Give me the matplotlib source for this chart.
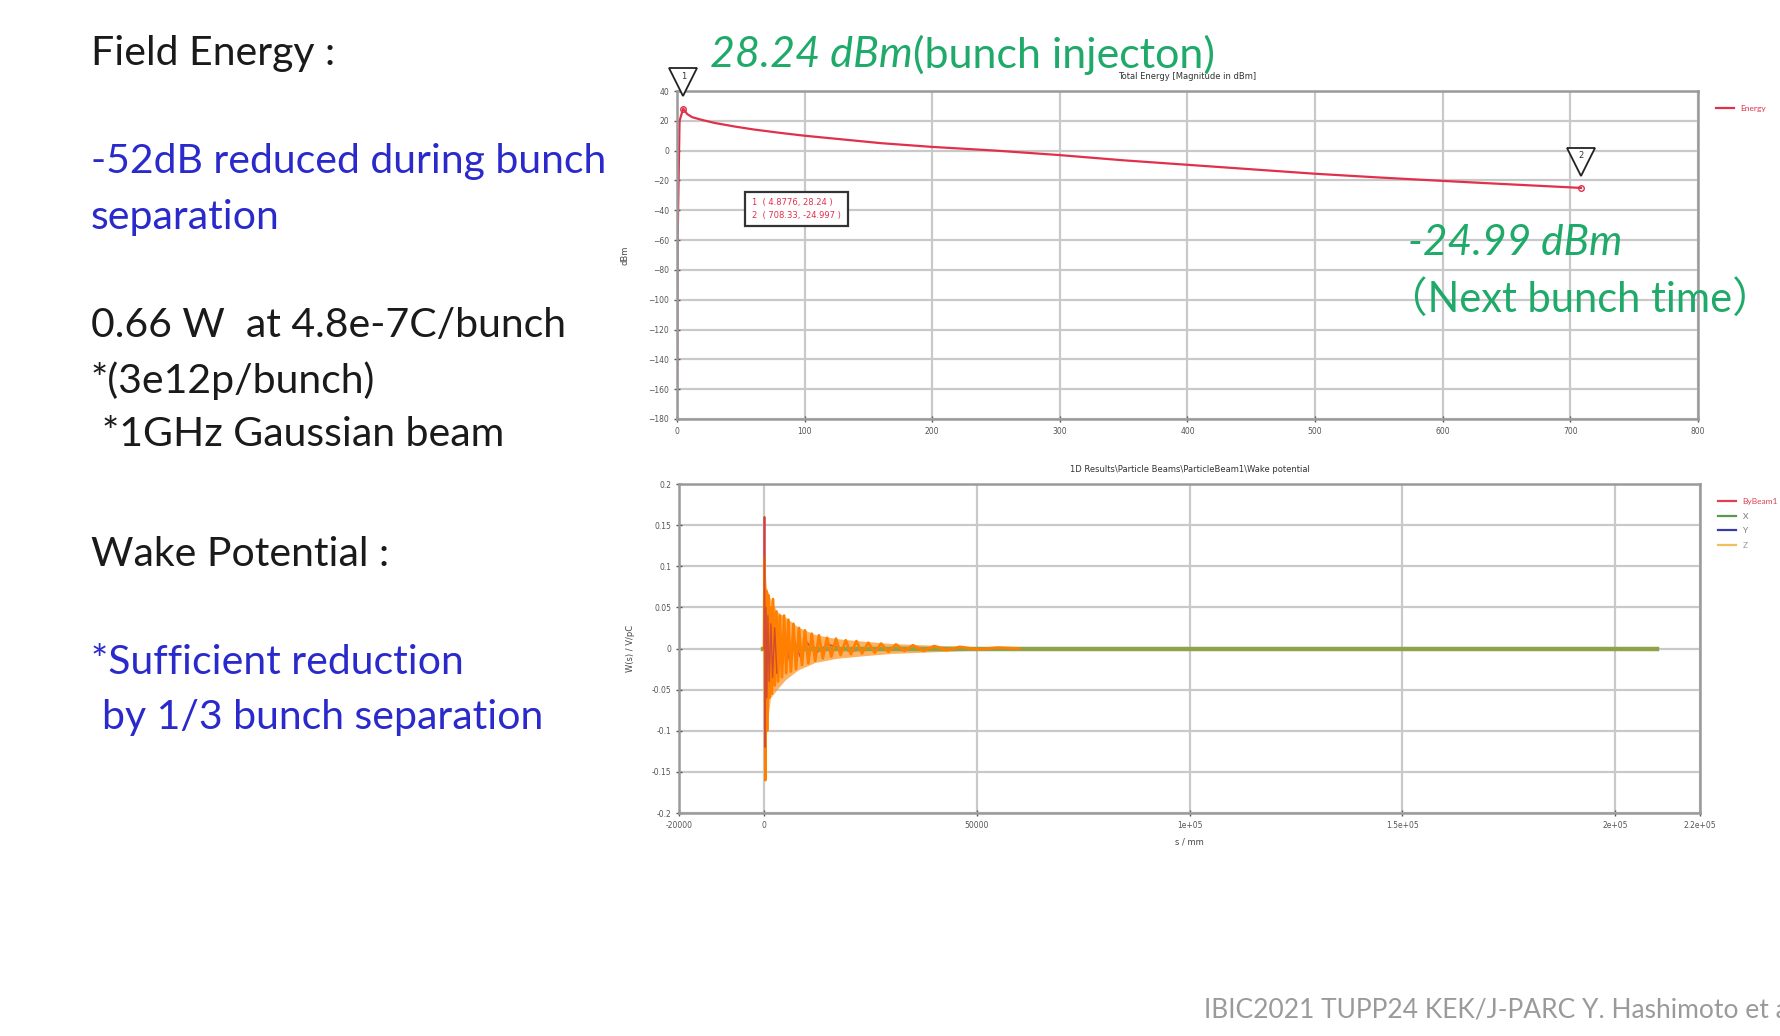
import matplotlib
matplotlib.use('Agg')
import matplotlib.pyplot as plt
from matplotlib.transforms import offset_copy
from matplotlib.lines import Line2D

# ---------------- data ----------------
time_ns = [0, 0.5, 2, 4.8776, 8, 12, 20, 30, 45, 60, 80, 100, 130, 160, 200, 250,
           300, 350, 400, 450, 500, 550, 600, 650, 708.33]
energy_dbm = [-180, -60, 20, 28.24, 24.5, 22.4, 20.5, 18.5, 16.2, 14.2, 12.0, 10.0,
              7.5, 5.0, 2.5, 0.0, -3.0, -6.5, -9.5, -12.5, -15.5, -18.0, -20.3,
              -22.5, -24.997]
marker_ids = ['1', '2']
marker_t = [4.8776, 708.33]
marker_v = [28.24, -24.997]
energy_xticks = [0, 100, 200, 300, 400, 500, 600, 700, 800]
energy_yticks = [40, 20, 0, -20, -40, -60, -80, -100, -120, -140, -160, -180]

wake_beam_s = [-200, 0, 100, 250, 450, 650, 900, 1200, 1600, 2000, 2500, 3000, 3600,
               4300, 5000, 6000, 7000, 8500, 10000, 12000, 15000, 20000, 30000, 60000]
wake_beam_v = [0, 0, 0.16, -0.12, 0.05, -0.06, 0.04, -0.04, 0.03, -0.035, 0.025, -0.03,
               0.02, -0.02, 0.015, -0.015, 0.01, -0.01, 0.008, -0.006, 0.005, -0.003,
               0.001, 0]
wake_x_s = [-200, 0, 60000, 120000, 180000, 210000]
wake_x_v = [0, 0, 0, 0, 0, 0]
wake_y_s = [-200, 0, 60000, 120000, 180000, 210000]
wake_y_v = [0, 0, 0, 0, 0, 0]
wake_z_s = [-200, 0, 120, 300, 480, 700, 950, 1200, 1500, 1800, 2100, 2500, 2900, 3300,
            3700, 4200, 4700, 5200, 5700, 6300, 6900, 7500, 8200, 8900, 9600, 10400,
            11200, 12000, 12900, 13800, 14800, 15800, 16900, 18000, 19200, 20400,
            21700, 23000, 24500, 26000, 27500, 29200, 31000, 33000, 35000, 37500,
            40000, 43000, 46000, 50000, 55000, 60000]
wake_z_v = [0, 0, 0.11, -0.16, 0.07, -0.10, 0.065, -0.06, 0.05, -0.055, 0.06, -0.045,
            0.045, -0.04, 0.04, -0.035, 0.04, -0.03, 0.035, -0.028, 0.03, -0.025, 0.025,
            -0.02, 0.022, -0.018, 0.018, -0.015, 0.016, -0.012, 0.013, -0.01, 0.012,
            -0.008, 0.01, -0.007, 0.009, -0.006, 0.007, -0.005, 0.006, -0.004, 0.005,
            -0.003, 0.004, -0.003, 0.003, -0.002, 0.002, -0.001, 0.001, 0]
# envelope of the dense oscillation
wake_env_s = [0, 500, 1500, 3000, 5000, 8000, 12000, 17000, 23000, 30000, 40000,
              50000, 60000]
wake_env_hi = [0.11, 0.075, 0.06, 0.045, 0.038, 0.026, 0.017, 0.012, 0.009, 0.006,
               0.004, 0.002, 0.0]
wake_env_lo = [-0.16, -0.10, -0.06, -0.05, -0.038, -0.026, -0.017, -0.012, -0.009,
               -0.006, -0.004, -0.002, 0.0]
wake_labels = ['ByBeam1', 'X', 'Y', 'Z']
wake_xticks = [-20000, 0, 50000, 100000, 150000, 200000, 220000]
wake_xticklabels = ['-20000', '0', '50000', '1e+05', '1.5e+05', '2e+05', '2.2e+05']
wake_yticks = [0.2, 0.15, 0.1, 0.05, 0, -0.05, -0.1, -0.15, -0.2]
wake_yticklabels = ['0.2', '0.15', '0.1', '0.05', '0', '-0.05', '-0.1', '-0.15', '-0.2']

# ---------------- figure ----------------
W, H = 1781, 1036
fig = plt.figure(figsize=(W / 100, H / 100), dpi=100)
fig.patch.set_facecolor('white')
plt.rcParams['font.family'] = ['Lato', 'Noto Sans CJK JP', 'DejaVu Sans']

def fx(x):
    return x / W

def fy(y):
    return 1 - y / H

GRID = '#c9c9c9'
SPINE = '#9a9a9a'
TICKC = '#555555'

def style_axes(ax):
    ax.set_facecolor('white')
    ax.grid(True, color=GRID, lw=1.6)
    ax.set_axisbelow(True)
    for s in ax.spines.values():
        s.set_color(SPINE)
        s.set_linewidth(1.8)
    ax.tick_params(labelsize=5.5, colors=TICKC, length=4, width=1, direction='inout')
    for lab in ax.get_xticklabels() + ax.get_yticklabels():
        lab.set_family('DejaVu Sans')

# ---- top: energy ----
ax1 = fig.add_axes([fx(677), fy(419), fx(1021), 328 / H])
ax1.plot(time_ns, energy_dbm, color='#e0304a', lw=1.6, label='Energy')
ax1.set_xlim(0, 800)
ax1.set_ylim(-180, 40)
ax1.set_xticks(energy_xticks)
ax1.set_yticks(energy_yticks)
style_axes(ax1)
ax1.set_ylabel('dBm', fontsize=6, color='#444', family='DejaVu Sans', labelpad=14)
ax1.set_title('Total Energy [Magnitude in dBm]', fontsize=6, color='#333',
              family='DejaVu Sans', pad=9)
tri_tr = offset_copy(ax1.transData, fig=fig, x=0, y=19, units='points')
for mid, t, v in zip(marker_ids, marker_t, marker_v):
    ax1.plot([t], [v], marker='o', ms=4, mfc='none', mec='#e0304a', mew=1, clip_on=False)
    ax1.plot([t], [v], marker='v', ms=20, mfc='white', mec='#222222', mew=1.3,
             transform=tri_tr, clip_on=False, zorder=5)
    ax1.annotate(mid, (t, v), xytext=(0, 23), textcoords='offset points', ha='center',
                 va='center', fontsize=6, color='#333', family='DejaVu Sans', zorder=6,
                 annotation_clip=False)
info = '\n'.join(f'{m}  ( {t}, {v} )' for m, t, v in zip(marker_ids, marker_t, marker_v))
fig.text(fx(752), fy(209), info, fontsize=6, color='#e0304a', family='DejaVu Sans',
         ha='left', va='center', linespacing=1.5,
         bbox=dict(boxstyle='square,pad=0.8', fc='white', ec='#333333', lw=1.6))
leg1 = ax1.legend(loc='upper left', bbox_to_anchor=(1.01, 0.98), frameon=False,
                  fontsize=6, handlelength=2.2)
for t in leg1.get_texts():
    t.set_color('#e0304a')

# ---- bottom: wake ----
ax2 = fig.add_axes([fx(679), fy(813), fx(1021), 329 / H])
ax2.plot(wake_beam_s, wake_beam_v, color='#e04050', lw=1.2, label=wake_labels[0])
ax2.plot(wake_x_s, wake_x_v, color='#8fa24a', lw=3.2, label=wake_labels[1])
ax2.plot(wake_y_s, wake_y_v, color='#3a3aa8', lw=0.8, alpha=0.0, label=wake_labels[2])
ax2.fill_between(wake_env_s, wake_env_lo, wake_env_hi, color='#ff9020', alpha=0.7,
                 lw=0)
ax2.plot(wake_z_s, wake_z_v, color='#ff8000', lw=2.0, label=wake_labels[3])
ax2.plot(wake_beam_s[:12], wake_beam_v[:12], color='#c8403a', lw=1.0, alpha=0.8)
ax2.set_xlim(-20000, 220000)
ax2.set_ylim(-0.2, 0.2)
ax2.set_xticks(wake_xticks)
ax2.set_xticklabels(wake_xticklabels)
ax2.set_yticks(wake_yticks)
ax2.set_yticklabels(wake_yticklabels)
style_axes(ax2)
ax2.set_xlabel('s / mm', fontsize=6, color='#444', family='DejaVu Sans', labelpad=6)
ax2.set_ylabel('W(s) / V/pC', fontsize=6, color='#444', family='DejaVu Sans', labelpad=12)
ax2.set_title('1D Results\\Particle Beams\\ParticleBeam1\\Wake potential', fontsize=6,
              color='#333', family='DejaVu Sans', pad=9)
leg_colors = ['#e04050', '#5a9a50', '#3a3aa8', '#f0c060']
proxy = [Line2D([], [], color=c, lw=1.6) for c in leg_colors]
leg2 = ax2.legend(proxy, wake_labels, loc='upper left', bbox_to_anchor=(1.01, 0.98),
                  frameon=False, fontsize=6, handlelength=2.2, labelspacing=0.9)
for t, c in zip(leg2.get_texts(), ['#e04050', '#777', '#777', '#999']):
    t.set_color(c)

# ---------------- slide text ----------------
BLACK = '#1a1a1a'
BLUE = '#2a2acc'
GREEN = '#1faa6a'
FS = 29.5
fig.text(fx(91), fy(53), 'Field Energy :', fontsize=FS, color=BLACK, va='center')
fig.text(fx(91), fy(162), '-52dB reduced during bunch', fontsize=FS, color=BLUE, va='center')
fig.text(fx(91), fy(217), 'separation', fontsize=FS, color=BLUE, va='center')
fig.text(fx(91), fy(326), '0.66 W  at 4.8e-7C/bunch', fontsize=FS, color=BLACK, va='center')
fig.text(fx(91), fy(381), '*(3e12p/bunch)', fontsize=FS, color=BLACK, va='center')
fig.text(fx(102), fy(435), '*1GHz Gaussian beam', fontsize=FS, color=BLACK, va='center')
fig.text(fx(91), fy(554), 'Wake Potential :', fontsize=FS, color=BLACK, va='center')
fig.text(fx(91), fy(662), '*Sufficient reduction', fontsize=FS, color=BLUE, va='center')
fig.text(fx(102), fy(718), 'by 1/3 bunch separation', fontsize=FS, color=BLUE, va='center')

GFS = 31
t1 = fig.text(fx(710), fy(55), '28.24 dBm', fontsize=GFS, color=GREEN, style='italic',
              va='center')
ax1.annotate('(bunch injecton)', xy=(1, 0.5), xycoords=t1, va='center', ha='left',
             fontsize=GFS, color=GREEN, annotation_clip=False)
fig.text(fx(1408), fy(243), '-24.99 dBm', fontsize=30.5, color=GREEN, style='italic',
         va='center')
fig.text(fx(1386), fy(299), '（Next bunch time）', fontsize=30, color=GREEN, va='center')

fig.text(fx(1204), fy(1010), 'IBIC2021 TUPP24 KEK/J-PARC Y. Hashimoto et al.',
         fontsize=19, color='#9a9a9a', va='center')

fig.savefig('out.png', dpi=100, facecolor='white')
